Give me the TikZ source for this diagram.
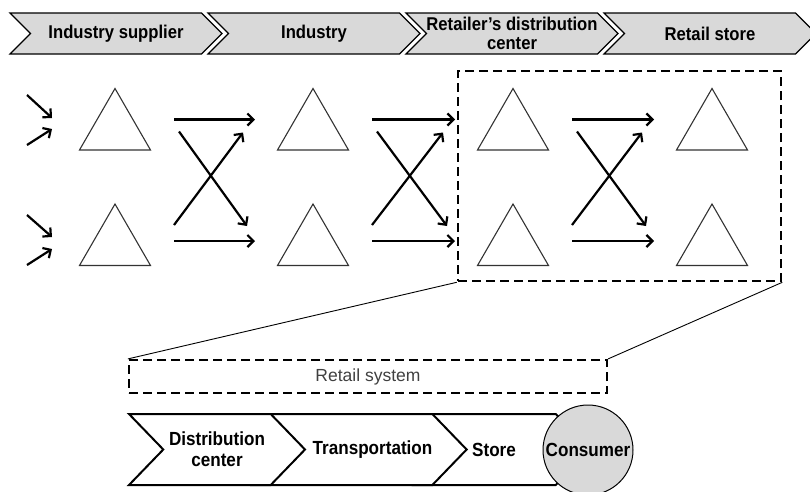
\documentclass[tikz,border=0pt]{standalone}
\usepackage{fontspec}
\setmainfont{Liberation Sans}
\newfontfamily\condfont[FakeStretch=0.9]{Liberation Sans}
\usetikzlibrary{shapes,arrows.meta,positioning,calc}

\begin{document}
\begin{tikzpicture}[
        x=1pt, y=-1pt,
        stage/.style = {signal, signal from=west, signal to=east, signal pointer angle=90, draw, line width=1.2pt, fill=gray!30, minimum width=212, minimum height=41, inner sep=0pt, align=center, font=\condfont\bfseries\fontsize{18.5}{19}\selectfont},
        retail/.style = {signal, signal from=west, signal to=east, signal pointer angle=92, draw, line width=2pt, fill=white, minimum width=176, minimum height=71, inner sep=0pt, align=center, font=\condfont\bfseries\fontsize{19}{21}\selectfont},
        tri/.style = {regular polygon, regular polygon sides=3, draw=black!80, line width=1.1pt, minimum size=82pt, inner sep=0pt},
        flow/.style = {line width=2.2pt, -{Straight Barb[length=6pt,width=12pt]}},
        zoombox/.style = {rectangle, draw, dash pattern=on 9pt off 5pt, line width=2.6pt},
        zoomline/.style = {draw, line width=0.9pt}
    ]
    \useasboundingbox (0,0) rectangle (810,491);

        % Supply chain stages
        \node [stage] at (116,33.5) (supplier) {Industry supplier};
        \node [stage] at (314,33.5) (industry) {Industry};
        \node [stage] at (512,33.5) (retailer) {Retailer’s distribution\\center};
        \node [stage] at (710,33.5) (store) {Retail store};

        % Nodes of the network
        \node [tri] at (115,129.5) (sup1) {};
        \node [tri] at (115,245) (sup2) {};
        \node [tri] at (313,129.5) (ind1) {};
        \node [tri] at (313,245) (ind2) {};
        \node [tri] at (513,129.5) (dc1) {};
        \node [tri] at (513,245) (dc2) {};
        \node [tri] at (712,129.5) (st1) {};
        \node [tri] at (712,245) (st2) {};

        \coordinate (in1) at (27,95);
        \coordinate (in2) at (27,145);
        \coordinate (in3) at (27,215);
        \coordinate (in4) at (27,265);

        % % Draw edges
        \draw [flow] (in1) -- ($(sup1.center)+(-63,-11.5)$);
        \draw [flow] (in2) -- ($(sup1.center)+(-63,-0.5)$);
        \draw [flow] (in3) -- ($(sup2.center)+(-63,-8)$);
        \draw [flow] (in4) -- ($(sup2.center)+(-63,4)$);
        \foreach \a/\b in {sup/ind, ind/dc, dc/st}{
            \draw [flow] ($(\a1.center)+(59,-10)$) -- ($(\b1.center)+(-58,-10)$);
            \draw [flow] ($(\a2.center)+(59,-4)$) -- ($(\b2.center)+(-58,-4)$);
            \draw [flow] ($(\a1.center)+(64,2)$) -- ($(\b2.center)+(-66,-19)$);
            \draw [flow] ($(\a2.center)+(59,-20)$) -- ($(\b1.center)+(-70,3)$);
        }

        % Retail system detail
        \node [zoombox, minimum width=323, minimum height=210] at (619.5,176) (sel) {};
        \node [zoombox, line width=2.2pt, minimum width=478, minimum height=33, text=black!75, font=\fontsize{17.5}{20}\selectfont] at (368,376.5) (rs) {Retail system};
        \draw [zoomline] (sel.south west) -- (rs.north west);
        \draw [zoomline] (sel.south east) -- (rs.north east);

        \node [retail] at (502,449.5) (shop) {Store\hspace*{16pt}};
        \node [retail] at (359.5,449.5) (trans) {\hspace*{26pt}Transportation};
        \node [retail] at (217,449.5) (dist) {Distribution\\center};
        \node [circle, draw, line width=1pt, fill=gray!30, minimum size=90pt, inner sep=0pt, font=\condfont\bfseries\fontsize{19}{20}\selectfont] at (588,450) (consumer) {Consumer};

    \end{tikzpicture}
\end{document}
